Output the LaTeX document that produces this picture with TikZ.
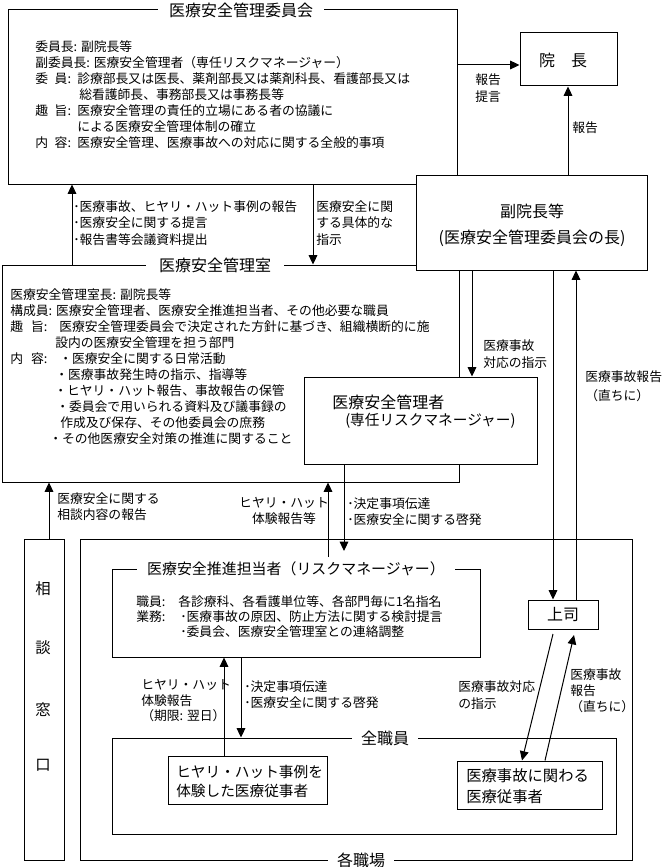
\documentclass[tikz,border=0pt]{standalone}
\usepackage{fontspec}
\setmainfont{Noto Sans CJK JP}
\usetikzlibrary{arrows.meta,fit}
\begin{document}
\begin{tikzpicture}[x=0.75pt,y=-0.75pt,
  box/.style={draw,fill=white,line width=0.75pt,inner sep=0pt},
  bt/.style={font=\fontsize{9.6}{12}\selectfont,inner sep=0pt,anchor=west},
  bc/.style={font=\fontsize{9.6}{12}\selectfont,inner sep=0pt},
  tt/.style={font=\fontsize{12}{14}\selectfont,inner sep=0pt},
  ttl/.style={font=\fontsize{12}{14}\selectfont,fill=white,inner xsep=8pt,inner ysep=1pt},
  arr/.style={line width=0.75pt,-{Triangle[length=7pt,width=6.5pt]}}]
\useasboundingbox (0,0) rectangle (662,867);
% boxes
\node[box,fit={(8,10)(457,184)}] (cmt) {};
\node[box,fit={(2,265)(459,482)}] (off) {};
\node[box,fit={(416,175)(647,270)}] (vp) {};
\node[box,fit={(520,33)(617,86)}] (inch) {};
\node[box,fit={(304,377)(537,464)}] (mgr) {};
\node[box,fit={(24,539)(64,860)}] (soudan) {};
\node[box,fit={(80,539)(632,860)}] (kaku) {};
\node[box,fit={(112,569)(480,657)}] (sui) {};
\node[box,fit={(528,600)(598,629)}] (joshi) {};
\node[box,fit={(112,738)(616,834)}] (zen) {};
\node[box,fit={(168,756)(327,804)}] (hiy) {};
\node[box,fit={(457,761)(602,809)}] (jiko) {};
% titles
\node[ttl] (cmtT) at (241,10) {医療安全管理委員会};
\node[ttl,inner xsep=10pt] (offT) at (215,265) {医療安全管理室};
\node[ttl,font=\fontsize{11.2}{13}\selectfont] (suiT) at (296,569) {医療安全推進担当者（リスクマネージャー）};
\node[ttl,inner xsep=7pt] (zenT) at (385,738) {全職員};
\node[ttl,inner xsep=7pt] (kakuT) at (361,860) {各職場};
% committee text
\node[bt] (c1) at (35,47) {委員長: 副院長等};
\node[bt] (c2) at (35,63) {副委員長: 医療安全管理者（専任リスクマネージャー）};
\node[bt] (c3a) at (35,79) {委\hspace{5pt}員:};
\node[bt] (c3) at (77,79) {診療部長又は医長、薬剤部長又は薬剤科長、看護部長又は};
\node[bt] (c4) at (79,95) {総看護師長、事務部長又は事務長等};
\node[bt] (c5a) at (35,111) {趣\hspace{5pt}旨:};
\node[bt] (c5) at (77,111) {医療安全管理の責任的立場にある者の協議に};
\node[bt] (c6) at (77,127) {による医療安全管理体制の確立};
\node[bt] (c7a) at (35,143) {内\hspace{5pt}容:};
\node[bt] (c7) at (77,143) {医療安全管理、医療事故への対応に関する全般的事項};
% office text
\node[bt] (o1) at (10,295) {医療安全管理室長: 副院長等};
\node[bt] (o2) at (10,311) {構成員: 医療安全管理者、医療安全推進担当者、その他必要な職員};
\node[bt] (o3a) at (10,327) {趣\hspace{6pt}旨:};
\node[bt] (o3) at (59,327) {医療安全管理委員会で決定された方針に基づき、組織横断的に施};
\node[bt] (o4) at (55,343) {設内の医療安全管理を担う部門};
\node[bt] (o5a) at (10,359) {内\hspace{6pt}容:};
\node[bt] (o5) at (59,359) {・医療安全に関する日常活動};
\node[bt] (o6) at (55,375) {・医療事故発生時の指示、指導等};
\node[bt] (o7) at (54,391) {・ヒヤリ・ハット報告、事故報告の保管};
\node[bt] (o8) at (56,407) {・委員会で用いられる資料及び議事録の};
\node[bt] (o9) at (60,423) {作成及び保存、その他委員会の庶務};
\node[bt] (o10) at (49,439) {・その他医療安全対策の推進に関すること};
% vice director, director, manager
\node[tt] (v1) at (532,211) {副院長等};
\node[tt] (v2) at (532,238) {(医療安全管理委員会の長)};
\node[tt] (inchT) at (563,60) {院　長};
\node[tt,anchor=west] (m1) at (332,402) {医療安全管理者};
\node[anchor=west,inner sep=0pt,font=\fontsize{11}{13}\selectfont] (m2) at (345,421) {(専任リスクマネージャー)};
% soudan madoguchi
\node[inner sep=0pt,font=\fontsize{11.5}{13}\selectfont] (sd1) at (43,589) {相};
\node[inner sep=0pt,font=\fontsize{11.5}{13}\selectfont] (sd2) at (43,648) {談};
\node[inner sep=0pt,font=\fontsize{11.5}{13}\selectfont] (sd3) at (43,710) {窓};
\node[inner sep=0pt,font=\fontsize{11.5}{13}\selectfont] (sd4) at (43,765) {口};
% suishin text
\node[bt] (s1a) at (136,602) {職員:};
\node[bt] (s1) at (178,602) {各診療科、各看護単位等、各部門毎に1名指名};
\node[bt] (s2a) at (136,617) {業務:};
\node[bt] (s2) at (180,617) {･医療事故の原因、防止方法に関する検討提言};
\node[bt] (s3) at (180,632) {･委員会、医療安全管理室との連絡調整};
% joshi and staff boxes
\node[tt] (joshiT) at (563,614) {上司};
\node[anchor=west,inner sep=0pt,font=\fontsize{11}{13}\selectfont] (h1) at (176,772) {ヒヤリ・ハット事例を};
\node[anchor=west,inner sep=0pt,font=\fontsize{11}{13}\selectfont] (h2) at (176,791) {体験した医療従事者};
\node[anchor=west,inner sep=0pt,font=\fontsize{11.5}{13}\selectfont] (j1) at (466,776) {医療事故に関わる};
\node[anchor=west,inner sep=0pt,font=\fontsize{11.5}{13}\selectfont] (j2) at (466,797) {医療従事者};
% arrow labels
\node[bt] (la1) at (475,80) {報告};
\node[bt] (la2) at (475,97) {提言};
\node[bt] (lb1) at (572,128) {報告};
\node[bt] (lc1) at (73,207) {･医療事故、ヒヤリ・ハット事例の報告};
\node[bt] (lc2) at (73,223) {･医療安全に関する提言};
\node[bt] (lc3) at (73,240) {･報告書等会議資料提出};
\node[bt] (ld1) at (316,207) {医療安全に関};
\node[bt] (ld2) at (316,223) {する具体的な};
\node[bt] (ld3) at (316,240) {指示};
\node[bt] (le1) at (483,346) {医療事故};
\node[bt] (le2) at (483,363) {対応の指示};
\node[bt] (lf1) at (585,377) {医療事故報告};
\node[bt] (lf2) at (585,396) {（直ちに）};
\node[bt] (lg1) at (57,499) {医療安全に関する};
\node[bt] (lg2) at (57,515) {相談内容の報告};
\node[bc] (lh1) at (284,503) {ヒヤリ・ハット};
\node[bc] (lh2) at (284,519) {体験報告等};
\node[bt] (li1) at (347,504) {･決定事項伝達};
\node[bt] (li2) at (347,520) {･医療安全に関する啓発};
\node[bt] (lj1) at (141,685) {ヒヤリ・ハット};
\node[bt] (lj2) at (141,701) {体験報告};
\node[bt] (lj3) at (141,716) {（期限: 翌日）};
\node[bt] (lk1) at (244,687) {･決定事項伝達};
\node[bt] (lk2) at (244,703) {･医療安全に関する啓発};
\node[bt] (ll1) at (458,687) {医療事故対応};
\node[bt] (ll2) at (458,704) {の指示};
\node[bt] (lm1) at (570,675) {医療事故};
\node[bt] (lm2) at (570,691) {報告};
\node[bt] (lm3) at (570,707) {（直ちに）};
% free ends
\coordinate (dn) at (344,551);
\coordinate (up) at (328,557);
\coordinate (d1) at (553,634);
\coordinate (d2) at (574,635);
% connectors
\draw[arr] (cmt.east |- 0,65) -- (inch.west |- 0,65);
\draw[arr] (vp.north -| 568,0) -- (inch.south -| 568,0);
\draw[arr] (off.north -| 72,0) -- (cmt.south -| 72,0);
\draw[arr] (cmt.south -| 313,0) -- (off.north -| 313,0);
\draw[arr] (vp.south -| 472,0) -- (mgr.north -| 472,0);
\draw[arr] (vp.south -| 553,0) -- (joshi.north -| 553,0);
\draw[arr] (joshi.north -| 576,0) -- (vp.south -| 576,0);
\draw[arr] (soudan.north -| 49,0) -- (off.south -| 49,0);
\draw[arr] (up) -- (off.south -| 328,0);
\draw[arr] (mgr.south -| 344,0) -- (dn);
\draw[arr] (hiy.north -| 224,0) -- (sui.south -| 224,0);
\draw[arr] (sui.south -| 241,0) -- (zen.north -| 241,0);
\draw[arr] (d1) -- (jiko.north -| 522,0);
\draw[arr] (jiko.north -| 545,0) -- (d2);
\end{tikzpicture}
\end{document}
